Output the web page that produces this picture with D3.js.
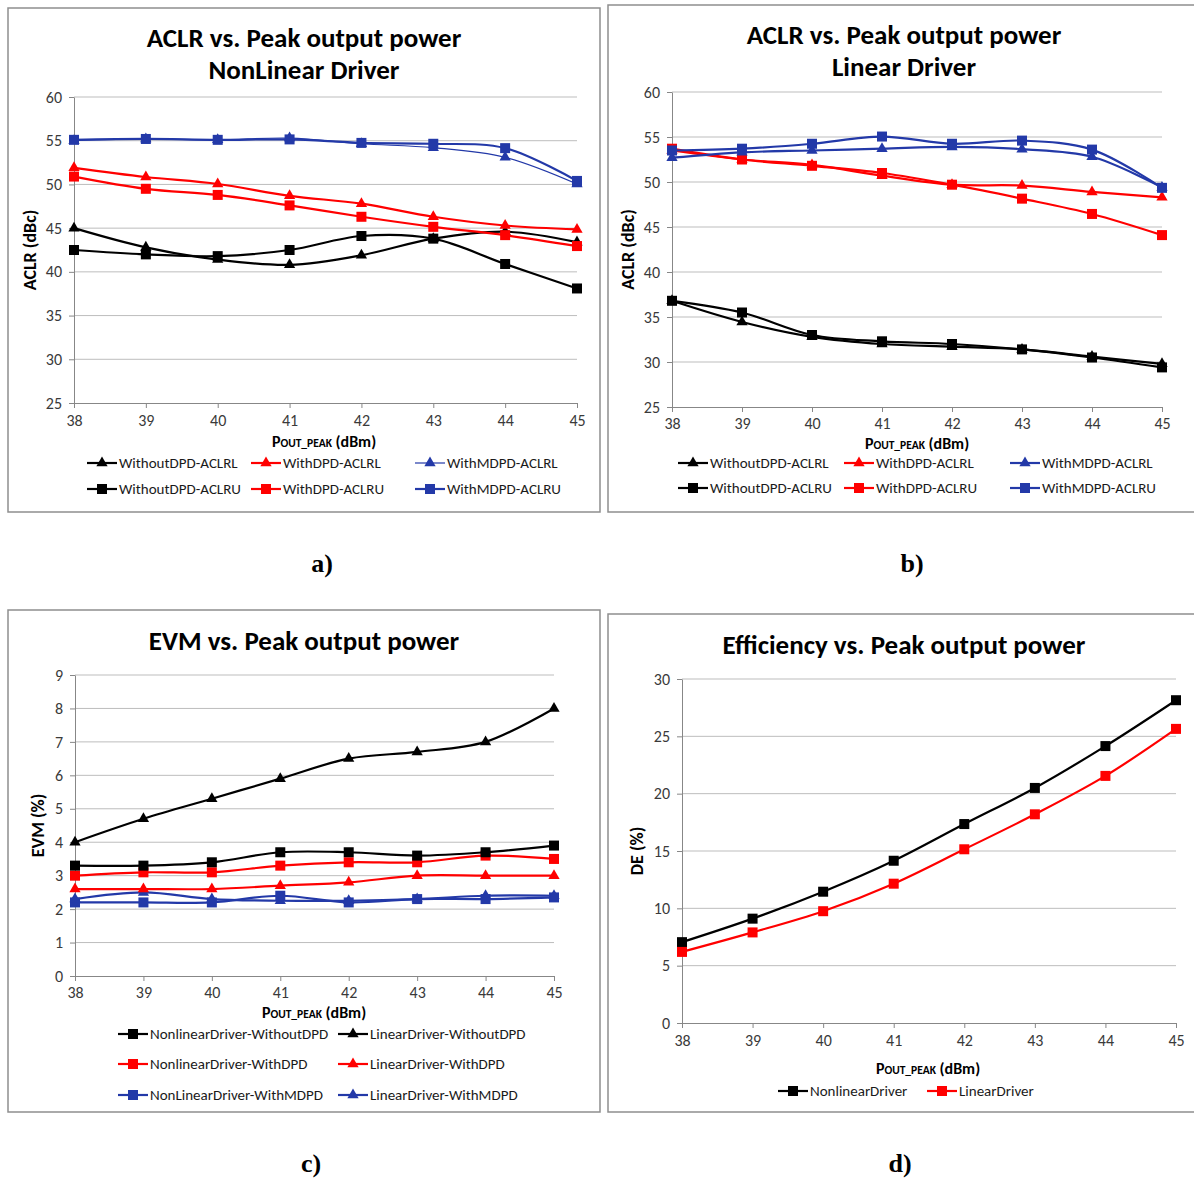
<!DOCTYPE html>
<html>
<head>
<meta charset="utf-8">
<script src="https://cdn.jsdelivr.net/npm/d3@7"></script>
<style>
  body { margin: 0; background: #fff; }
  svg { display: block; }
  text { font-family: Carlito, Calibri, Lato, "Open Sans", sans-serif; }
</style>
</head>
<body>
<svg id="fig" width="1194" height="1179"></svg>
<script>
// Peak output power (dBm), shared by all four panels
const pout = [38, 39, 40, 41, 42, 43, 44, 45];

// a) ACLR, nonlinear driver (dBc)
const nlWithoutDpdAclrL = [45.0, 42.8, 41.4, 40.8, 41.9, 43.8, 44.6, 43.4];
const nlWithoutDpdAclrU = [42.5, 42.0, 41.8, 42.5, 44.1, 43.8, 40.9, 38.1];
const nlWithDpdAclrL    = [51.9, 50.85, 50.05, 48.7, 47.8, 46.3, 45.3, 44.85];
const nlWithDpdAclrU    = [50.9, 49.5, 48.8, 47.6, 46.3, 45.15, 44.2, 42.95];
const nlWithMdpdAclrL   = [55.0, 55.2, 55.1, 55.3, 54.65, 54.2, 53.1, 50.05];
const nlWithMdpdAclrU   = [55.1, 55.2, 55.1, 55.15, 54.75, 54.65, 54.15, 50.4];

// b) ACLR, linear driver (dBc)
const lWithoutDpdAclrL = [36.8, 34.45, 32.8, 32.0, 31.7, 31.4, 30.6, 29.8];
const lWithoutDpdAclrU = [36.8, 35.5, 33.0, 32.3, 32.0, 31.4, 30.5, 29.4];
const lWithDpdAclrL    = [53.5, 52.5, 51.9, 50.7, 49.7, 49.6, 48.9, 48.3];
const lWithDpdAclrU    = [53.7, 52.5, 51.8, 51.0, 49.7, 48.15, 46.45, 44.1];
const lWithMdpdAclrL   = [52.7, 53.3, 53.5, 53.7, 53.9, 53.65, 52.8, 49.4];
const lWithMdpdAclrU   = [53.5, 53.7, 54.25, 55.05, 54.25, 54.6, 53.6, 49.35];

// c) EVM (%)
const evmNlWithoutDpd = [3.3, 3.3, 3.4, 3.7, 3.7, 3.6, 3.7, 3.9];
const evmLWithoutDpd  = [4.0, 4.7, 5.3, 5.9, 6.5, 6.7, 7.0, 8.0];
const evmNlWithDpd    = [3.0, 3.1, 3.1, 3.3, 3.4, 3.4, 3.6, 3.5];
const evmLWithDpd     = [2.6, 2.6, 2.6, 2.7, 2.8, 3.0, 3.0, 3.0];
const evmNlWithMdpd   = [2.2, 2.2, 2.2, 2.4, 2.2, 2.3, 2.3, 2.35];
const evmLWithMdpd    = [2.3, 2.5, 2.3, 2.25, 2.25, 2.3, 2.4, 2.4];

// d) Drain efficiency (%)
const deNonlinear = [7.05, 9.1, 11.45, 14.15, 17.35, 20.5, 24.15, 28.15];
const deLinear    = [6.2, 7.9, 9.75, 12.15, 15.15, 18.2, 21.55, 25.65];

// Axis ticks
const aclrTicks = [25, 30, 35, 40, 45, 50, 55, 60];
const evmTicks  = [0, 1, 2, 3, 4, 5, 6, 7, 8, 9];
const deTicks   = [0, 5, 10, 15, 20, 25, 30];

const BLACK = "#000000", RED = "#ff0000", BLUE = "#2339a8";

const svg = d3.select("#fig");

function drawPanel(p) {
  const g = svg.append("g");
  g.append("rect")
    .attr("x", p.box[0]).attr("y", p.box[1])
    .attr("width", p.box[2] - p.box[0]).attr("height", p.box[3] - p.box[1])
    .attr("fill", "#fff").attr("stroke", "#8e8e8e").attr("stroke-width", 1.5);

  const x = d3.scaleLinear().domain([38, 45]).range([p.px0, p.px1]);
  const y = d3.scaleLinear().domain(d3.extent(p.yTicks)).range([p.py1, p.py0]);

  // horizontal gridlines
  g.append("g").selectAll("line").data(p.yTicks.slice(1)).join("line")
    .attr("x1", p.px0).attr("x2", p.px1)
    .attr("y1", d => y(d)).attr("y2", d => y(d))
    .attr("stroke", "#bdbdbd").attr("stroke-width", 1);

  const yAxis = g.append("g").attr("transform", `translate(${p.px0},0)`)
    .call(d3.axisLeft(y).tickValues(p.yTicks).tickFormat(d3.format("d"))
      .tickSize(5).tickSizeOuter(0).tickPadding(7));
  const xAxis = g.append("g").attr("transform", `translate(0,${p.py1})`)
    .call(d3.axisBottom(x).tickValues(pout).tickFormat(d3.format("d"))
      .tickSize(5).tickSizeOuter(0).tickPadding(p.xPad || 7));
  [yAxis, xAxis].forEach(ax => {
    ax.select(".domain").attr("stroke", "#878787");
    ax.selectAll(".tick line").attr("stroke", "#878787");
    ax.selectAll(".tick text").attr("fill", "#3a3a3a").style("font-size", "16px")
      .style("font-family", "Carlito, Calibri, Lato, sans-serif");
  });

  // titles
  p.title.forEach((t, i) => {
    g.append("text").attr("x", p.titleX).attr("y", p.titleY[i]).attr("dy", "0.35em")
      .attr("text-anchor", "middle").attr("font-weight", "bold")
      .attr("font-size", 27).attr("fill", "#000").text(t);
  });

  // y axis title
  g.append("text")
    .attr("transform", `translate(${p.yTitleX},${(p.py0 + p.py1) / 2}) rotate(-90)`)
    .attr("dy", "0.35em").attr("text-anchor", "middle")
    .attr("font-weight", "bold").attr("font-size", 18).text(p.yTitle);

  // x axis title with small-caps subscript style
  const xt = g.append("text").attr("x", p.xTitleX).attr("y", p.xTitleY).attr("dy", "0.35em")
    .attr("text-anchor", "middle").attr("font-weight", "bold");
  xt.append("tspan").attr("font-size", 16).text("P");
  xt.append("tspan").attr("font-size", 11.5).text("OUT_PEAK");
  xt.append("tspan").attr("font-size", 16).text(" (dBm)");

  const line = d3.line().x((d, i) => x(pout[i])).y(d => y(d))
    .curve(d3.curveCatmullRom.alpha(0.5));

  function marker(sel, shape, color, cx, cy) {
    if (shape === "square") {
      sel.append("rect").attr("x", cx - 5).attr("y", cy - 5)
        .attr("width", 10).attr("height", 10).attr("fill", color);
    } else {
      sel.append("path").attr("d", d3.symbol(d3.symbolTriangle, 55)())
        .attr("transform", `translate(${cx},${cy})`).attr("fill", color);
    }
  }

  p.series.forEach(s => {
    g.append("path").attr("d", line(s.values)).attr("fill", "none")
      .attr("stroke", s.color).attr("stroke-width", s.width || 2.2);
    const mg = g.append("g");
    s.values.forEach((v, i) => marker(mg, s.shape, s.color, x(pout[i]), y(v)));
  });

  // legend
  p.series.forEach(s => {
    const lg = g.append("g");
    lg.append("line").attr("x1", s.lx).attr("x2", s.lx + 30)
      .attr("y1", s.ly).attr("y2", s.ly)
      .attr("stroke", s.color).attr("stroke-width", s.width || 2.2);
    marker(lg, s.shape, s.color, s.lx + 15, s.ly);
    lg.append("text").attr("x", s.lx + 32).attr("y", s.ly).attr("dy", "0.35em")
      .attr("font-size", 15).attr("fill", "#1a1a1a").text(s.name);
  });
}

drawPanel({
  box: [8, 8, 600, 512], px0: 74, px1: 577, py0: 97, py1: 403, yTicks: aclrTicks,
  title: ["ACLR vs. Peak output power", "NonLinear Driver"], titleX: 304, titleY: [38, 70],
  yTitle: "ACLR (dBc)", yTitleX: 30, xTitleX: 324, xTitleY: 441,
  series: [
    { name: "WithoutDPD-ACLRU", values: nlWithoutDpdAclrU, color: BLACK, shape: "square", lx: 87, ly: 489 },
    { name: "WithoutDPD-ACLRL", values: nlWithoutDpdAclrL, color: BLACK, shape: "triangle", lx: 87, ly: 463 },
    { name: "WithDPD-ACLRU", values: nlWithDpdAclrU, color: RED, shape: "square", lx: 251, ly: 489 },
    { name: "WithDPD-ACLRL", values: nlWithDpdAclrL, color: RED, shape: "triangle", lx: 251, ly: 463 },
    { name: "WithMDPD-ACLRL", values: nlWithMdpdAclrL, color: BLUE, shape: "triangle", width: 1.2, lx: 415, ly: 463 },
    { name: "WithMDPD-ACLRU", values: nlWithMdpdAclrU, color: BLUE, shape: "square", lx: 415, ly: 489 }
  ]
});

drawPanel({
  box: [608, 5, 1196, 512], px0: 672, px1: 1162, py0: 92, py1: 407, yTicks: aclrTicks,
  title: ["ACLR vs. Peak output power", "Linear Driver"], titleX: 904, titleY: [35, 67],
  yTitle: "ACLR (dBc)", yTitleX: 628, xTitleX: 917, xTitleY: 443, xPad: 6,
  series: [
    { name: "WithoutDPD-ACLRL", values: lWithoutDpdAclrL, color: BLACK, shape: "triangle", lx: 678, ly: 463 },
    { name: "WithoutDPD-ACLRU", values: lWithoutDpdAclrU, color: BLACK, shape: "square", lx: 678, ly: 488 },
    { name: "WithDPD-ACLRL", values: lWithDpdAclrL, color: RED, shape: "triangle", lx: 844, ly: 463 },
    { name: "WithDPD-ACLRU", values: lWithDpdAclrU, color: RED, shape: "square", lx: 844, ly: 488 },
    { name: "WithMDPD-ACLRL", values: lWithMdpdAclrL, color: BLUE, shape: "triangle", lx: 1010, ly: 463 },
    { name: "WithMDPD-ACLRU", values: lWithMdpdAclrU, color: BLUE, shape: "square", lx: 1010, ly: 488 }
  ]
});

drawPanel({
  box: [8, 610, 600, 1112], px0: 75, px1: 554, py0: 675, py1: 976, yTicks: evmTicks,
  title: ["EVM vs. Peak output power"], titleX: 304, titleY: [641],
  yTitle: "EVM (%)", yTitleX: 38, xTitleX: 314, xTitleY: 1012, xPad: 6,
  series: [
    { name: "NonLinearDriver-WithMDPD", values: evmNlWithMdpd, color: BLUE, shape: "square", lx: 118, ly: 1095 },
    { name: "LinearDriver-WithMDPD", values: evmLWithMdpd, color: BLUE, shape: "triangle", lx: 338, ly: 1095 },
    { name: "NonlinearDriver-WithDPD", values: evmNlWithDpd, color: RED, shape: "square", lx: 118, ly: 1064 },
    { name: "LinearDriver-WithDPD", values: evmLWithDpd, color: RED, shape: "triangle", lx: 338, ly: 1064 },
    { name: "NonlinearDriver-WithoutDPD", values: evmNlWithoutDpd, color: BLACK, shape: "square", lx: 118, ly: 1034 },
    { name: "LinearDriver-WithoutDPD", values: evmLWithoutDpd, color: BLACK, shape: "triangle", lx: 338, ly: 1034 }
  ]
});

drawPanel({
  box: [608, 614, 1196, 1112], px0: 682, px1: 1176, py0: 679, py1: 1023, yTicks: deTicks,
  title: ["Efficiency vs. Peak output power"], titleX: 904, titleY: [645],
  yTitle: "DE (%)", yTitleX: 637, xTitleX: 928, xTitleY: 1068,
  series: [
    { name: "NonlinearDriver", values: deNonlinear, color: BLACK, shape: "square", lx: 778, ly: 1091 },
    { name: "LinearDriver", values: deLinear, color: RED, shape: "square", lx: 927, ly: 1091 }
  ]
});

// sub-figure captions
[["a)", 322, 563], ["b)", 912, 563], ["c)", 311, 1163], ["d)", 900, 1163]].forEach(([t, cx, cy]) => {
  svg.append("text").attr("x", cx).attr("y", cy).attr("dy", "0.35em")
    .attr("text-anchor", "middle").attr("font-weight", "bold").attr("font-size", 26)
    .style("font-family", "'Liberation Serif', 'DejaVu Serif', serif").text(t);
});
</script>
</body>
</html>
